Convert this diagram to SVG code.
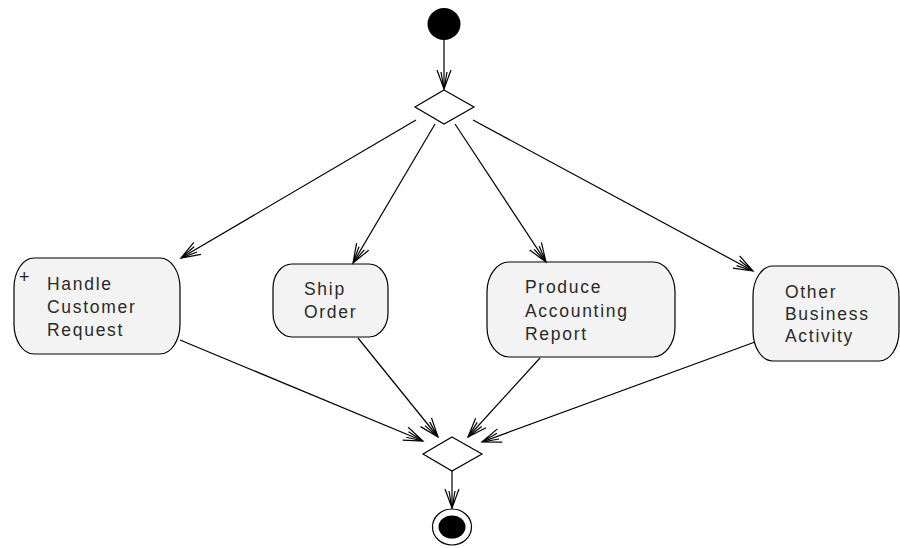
<svg xmlns="http://www.w3.org/2000/svg" width="900" height="548" viewBox="0 0 900 548">
<defs>
<marker id="arr" markerUnits="userSpaceOnUse" markerWidth="24" markerHeight="20" viewBox="-20 -10 22 20" refX="0" refY="0" orient="auto" overflow="visible">
<path d="M-19,-7 L0,0 L-19,7 M-17,-3 L0,0 L-17,3" fill="none" stroke="#000" stroke-width="1.2"/>
</marker>
<style>
.node{fill:#f3f3f3;stroke:#000;stroke-width:1.2}
.lbl{font-family:"Liberation Sans",Arial,sans-serif;font-size:17.5px;letter-spacing:1.7px;fill:#2a2a2a}
.con line{stroke:#000;stroke-width:1.2;marker-end:url(#arr)}
</style>
</defs>
<rect width="900" height="548" fill="#fff"/>
<g id="start"><ellipse cx="444" cy="24" rx="16.5" ry="16" fill="#000"/></g>
<g id="decision1"><polygon points="444,90 474,107 444,124 415,107" fill="#fff" stroke="#000" stroke-width="1.2"/></g>
<g id="handle">
<rect class="node" x="14" y="258" width="166" height="96" rx="20" ry="30"/>
<text x="19" y="283" font-family="Liberation Sans,Arial,sans-serif" font-size="18" fill="#222">+</text>
<text class="lbl" x="47" y="290">Handle</text>
<text class="lbl" x="47" y="313">Customer</text>
<text class="lbl" x="47" y="336">Request</text>
</g>
<g id="ship">
<rect class="node" x="273" y="264" width="115" height="73" rx="19" ry="24"/>
<text class="lbl" x="304" y="295">Ship</text>
<text class="lbl" x="304" y="318">Order</text>
</g>
<g id="produce">
<rect class="node" x="487" y="262" width="188" height="95" rx="22" ry="30"/>
<text class="lbl" x="525" y="293">Produce</text>
<text class="lbl" x="525" y="317">Accounting</text>
<text class="lbl" x="525" y="340">Report</text>
</g>
<g id="other">
<rect class="node" x="753" y="266" width="146" height="95" rx="20" ry="30"/>
<text class="lbl" x="785" y="298">Other</text>
<text class="lbl" x="785" y="320">Business</text>
<text class="lbl" x="785" y="342">Activity</text>
</g>
<g id="decision2"><polygon points="452,437 482,454 452,471 423,454" fill="#fff" stroke="#000" stroke-width="1.2"/></g>
<g id="end">
<ellipse cx="452" cy="527" rx="19.5" ry="18" fill="#fff" stroke="#000" stroke-width="1.2"/>
<ellipse cx="452" cy="527" rx="13.5" ry="11.5" fill="#000"/>
</g>
<g class="con" id="connectors">
<line x1="444" y1="40" x2="444" y2="89"/>
<line x1="416" y1="120" x2="181" y2="258"/>
<line x1="435" y1="124" x2="353" y2="263"/>
<line x1="455" y1="124" x2="546" y2="262"/>
<line x1="473" y1="120" x2="753" y2="271"/>
<line x1="180" y1="340" x2="423" y2="441"/>
<line x1="358" y1="338" x2="438" y2="437"/>
<line x1="540" y1="358" x2="468" y2="437"/>
<line x1="755" y1="342" x2="482" y2="442"/>
<line x1="452" y1="471" x2="452" y2="508"/>
</g>
</svg>
